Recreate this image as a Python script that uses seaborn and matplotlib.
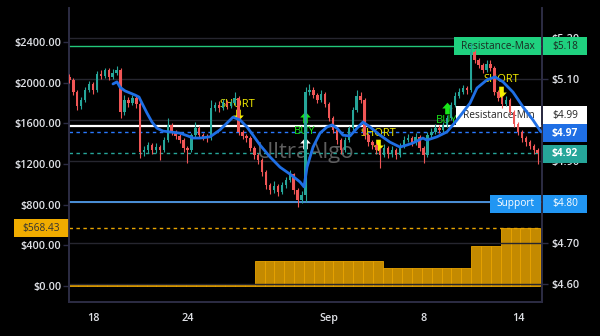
import matplotlib

matplotlib.use("Agg")

import matplotlib.pyplot as plt
import matplotlib.transforms as mtransforms
import numpy as np
import seaborn as sns
from matplotlib.patches import Rectangle
from matplotlib.path import Path

# 6h candles, right axis (price)
FIRST_OPEN = 5.105
CLOSE = [
    5.098, 5.068, 5.034, 5.049, 5.073, 5.088, 5.073, 5.112, 5.107, 5.122,
    5.105, 5.115, 5.122, 5.020, 5.049, 5.041, 5.054, 5.039, 4.922, 4.927,
    4.939, 4.927, 4.934, 4.927, 4.951, 4.988, 4.971, 4.961, 4.951, 4.932,
    4.927, 4.963, 4.980, 4.963, 4.959, 4.956, 5.029, 5.037, 5.029, 5.044,
    5.034, 5.041, 5.054, 4.971, 4.961, 4.956, 4.932, 4.915, 4.902, 4.873,
    4.841, 4.829, 4.839, 4.824, 4.841, 4.854, 4.868, 4.829, 4.805, 4.817,
    5.068, 5.073, 5.061, 5.049, 5.063, 5.039, 5.005, 4.976, 4.951, 4.927,
    4.951, 4.980, 5.024, 5.059, 5.049, 4.963, 4.946, 4.939, 4.927, 4.915,
    4.932, 4.917, 4.927, 4.915, 4.937, 4.951, 4.956, 4.944, 4.959, 4.932,
    4.915, 4.963, 4.971, 4.980, 4.976, 4.988, 5.005, 5.037, 5.059, 5.068,
    5.078, 5.073, 5.166, 5.146, 5.134, 5.122, 5.137, 5.127, 5.068, 5.054,
    5.039, 5.049, 5.020, 4.990, 4.971, 4.956, 4.946, 4.937, 4.927, 4.920,
]
HIGH = [
    5.112, 5.102, 5.072, 5.056, 5.080, 5.095, 5.092, 5.120, 5.122, 5.128,
    5.127, 5.124, 5.132, 5.126, 5.061, 5.056, 5.061, 5.059, 5.044, 4.937,
    4.946, 4.944, 4.944, 4.939, 4.958, 5.005, 4.993, 4.976, 4.966, 4.956,
    4.937, 4.968, 4.995, 4.985, 4.968, 4.966, 5.049, 5.044, 5.046, 5.051,
    5.049, 5.049, 5.068, 5.058, 4.976, 4.966, 4.961, 4.937, 4.920, 4.907,
    4.878, 4.846, 4.851, 4.844, 4.849, 4.861, 4.878, 4.871, 4.834, 4.827,
    5.080, 5.088, 5.080, 5.066, 5.073, 5.068, 5.044, 5.010, 4.980, 4.956,
    4.958, 4.985, 5.032, 5.073, 5.068, 5.054, 4.968, 4.951, 4.944, 4.932,
    4.941, 4.937, 4.937, 4.932, 4.944, 4.961, 4.966, 4.961, 4.968, 4.963,
    4.937, 4.971, 4.980, 4.990, 4.988, 4.995, 5.012, 5.044, 5.068, 5.078,
    5.085, 5.083, 5.188, 5.171, 5.151, 5.139, 5.146, 5.146, 5.132, 5.073,
    5.059, 5.058, 5.054, 5.024, 4.995, 4.976, 4.961, 4.951, 4.941, 4.932,
]
LOW = [
    5.090, 5.060, 5.024, 5.028, 5.044, 5.068, 5.063, 5.068, 5.100, 5.102,
    5.098, 5.100, 5.110, 5.005, 5.012, 5.032, 5.036, 5.030, 4.907, 4.912,
    4.920, 4.917, 4.920, 4.902, 4.922, 4.946, 4.963, 4.954, 4.944, 4.922,
    4.895, 4.922, 4.958, 4.956, 4.951, 4.946, 4.951, 5.022, 5.020, 5.024,
    5.027, 5.029, 5.036, 4.963, 4.954, 4.946, 4.924, 4.905, 4.893, 4.863,
    4.832, 4.819, 4.822, 4.815, 4.819, 4.834, 4.849, 4.819, 4.788, 4.797,
    4.800, 5.061, 5.054, 5.041, 5.044, 5.032, 4.998, 4.968, 4.941, 4.917,
    4.922, 4.946, 4.975, 5.020, 5.041, 4.954, 4.937, 4.929, 4.917, 4.883,
    4.910, 4.907, 4.910, 4.905, 4.910, 4.932, 4.946, 4.936, 4.939, 4.924,
    4.895, 4.910, 4.956, 4.966, 4.968, 4.971, 4.983, 5.000, 5.032, 5.054,
    5.063, 5.063, 5.068, 5.139, 5.127, 5.115, 5.117, 5.120, 5.061, 5.046,
    5.029, 5.034, 5.012, 4.983, 4.963, 4.946, 4.937, 4.929, 4.917, 4.893,
]

# blue moving average, positions in candle units
MA_POS = [
    11.08, 12.10, 12.86, 14.13, 15.40, 16.67, 17.69, 18.45, 19.72, 20.99,
    22.26, 23.79, 25.48, 28.11, 30.14, 31.41, 33.19, 35.73, 38.27, 41.58,
    43.36, 45.13, 46.66, 48.44, 50.98, 53.52, 56.06, 58.60, 59.62, 60.39,
    61.91, 63.69, 65.47, 66.74, 68.01, 69.53, 71.31, 73.09, 74.61, 76.39,
    78.93, 81.47, 84.01, 85.79, 87.31, 89.85, 90.87, 93.41, 95.95, 98.49,
    101.80, 103.58, 106.12, 108.16, 110.19, 112.73, 115.27, 117.81, 119.84,
]
MA_VALUE = [
    5.088, 5.093, 5.080, 5.071, 5.066, 5.061, 5.056, 5.041, 5.017, 4.995,
    4.980, 4.973, 4.971, 4.968, 4.961, 4.956, 4.956, 4.959, 4.976, 5.007,
    5.000, 4.983, 4.963, 4.939, 4.910, 4.885, 4.868, 4.849, 4.837, 4.885,
    4.934, 4.968, 4.983, 4.988, 4.980, 4.963, 4.961, 4.980, 4.995, 4.983,
    4.963, 4.946, 4.934, 4.939, 4.944, 4.956, 4.951, 4.959, 4.971, 5.000,
    5.041, 5.078, 5.098, 5.105, 5.093, 5.068, 5.032, 5.000, 4.971,
]

# orange step bars, left axis ($)
BAR_LEVELS = [6, 246, 182, 398, 568.43]
BAR_COUNTS = [19, 13, 9, 3, 4]

DATE_TICKS = [6, 30, 66, 90, 114]
DATE_LABELS = ["18", "24", "Sep", "8", "14"]
LEFT_TICKS = [0, 400, 800, 1200, 1600, 2000, 2400]
RIGHT_TICKS = [4.6, 4.7, 4.8, 4.9, 5.0, 5.1, 5.2]
RIGHT_LABELS = ["$4.60", "$4.70", "", "$4.90", "", "$5.10", "$5.20"]

RES_MAX, RES_MIN, SUPPORT = 5.18, 4.985, 4.80
LAST_MA, LAST_CLOSE, LAST_BAR = 4.97, 4.92, 568.43

SIGNAL_KIND = ["SHORT", "BUY", "SHORT", "BUY", "SHORT"]
SIGNAL_POS = [42.8, 59.9, 78.4, 96.0, 109.7]
SIGNAL_TEXT_PRICE = [5.039, 4.973, 4.968, 4.998, 5.098]
SIGNAL_ARROW_PRICE = [5.012, 5.007, 4.939, 5.029, 5.068]

UP, DOWN = "#26a69a", "#f05656"
FG = "#dfe1e6"
GRID = "#26262f"
SPINE = "#2c2c44"
YELLOW, GREEN = "#f6ef00", "#19e619"

# block arrow marker
ARROW_UP = Path(
    [(-0.22, -0.55), (0.22, -0.55), (0.22, 0.0), (0.5, 0.0), (0.0, 0.55),
     (-0.5, 0.0), (-0.22, 0.0), (-0.22, -0.55)],
    [Path.MOVETO] + [Path.LINETO] * 6 + [Path.CLOSEPOLY],
)
ARROW_DOWN = Path(ARROW_UP.vertices * np.array([1, -1]), ARROW_UP.codes)


def label_box(ax, x0, x1, yc, text, fc, tc, weight="normal", h=0.044, z=3):
    trans = mtransforms.blended_transform_factory(ax.transAxes, ax.transData)
    ax.add_patch(Rectangle((x0, yc - h / 2), x1 - x0, h, transform=trans, fc=fc, ec="none",
                           clip_on=False, zorder=z))
    ax.text((x0 + x1) / 2, yc, text, transform=trans, ha="center", va="center", color=tc,
            fontsize=7.3, fontweight=weight, clip_on=False, zorder=z + 0.1)


def main() -> None:
    sns.set_theme(style="dark", rc={
        "axes.facecolor": "#000000",
        "figure.facecolor": "#000000",
        "axes.edgecolor": SPINE,
        "grid.color": GRID,
        "text.color": FG,
        "xtick.color": FG,
        "ytick.color": FG,
    })
    plt.rcParams["font.family"] = ["Open Sans", "DejaVu Sans"]

    fig = plt.figure(figsize=(6, 3.36), dpi=100)
    ax = fig.add_axes([69 / 600, 34 / 336, 473 / 600, 294 / 336])
    ax2 = ax.twinx()

    # orange bars on the left axis
    bar_vals = np.repeat(BAR_LEVELS, BAR_COUNTS)
    bar_left = -0.4 + 2.5 * np.arange(len(bar_vals))
    ax.bar(bar_left, bar_vals, width=2.5, align="edge", color="#c48a00",
           edgecolor="#eaa400", linewidth=0.6, zorder=2)
    ax.axhline(LAST_BAR, color="#e8a400", lw=1, ls=(0, (2.5, 2.5)), zorder=2.2)

    ax.set_ylim(-157, 2734)
    ax.set_xlim(-0.1, 120.1)
    ax.set_yticks(LEFT_TICKS)
    ax.set_yticklabels([f"${v:.2f}" for v in LEFT_TICKS])
    ax.set_xticks(DATE_TICKS)
    ax.set_xticklabels(DATE_LABELS)
    ax.tick_params(axis="y", length=4, width=1, color=SPINE, pad=1.5, labelsize=7.8)
    ax.tick_params(axis="x", length=4, width=1, color=SPINE, pad=9.5, labelsize=7.8)
    for lab in ax.get_yticklabels():
        lab.set_fontweight("semibold")
    for lab in ax.get_xticklabels():
        lab.set_fontweight("semibold")
        lab.set_verticalalignment("baseline")
    ax.grid(False)
    ax.spines["top"].set_visible(False)

    # candles on the right axis
    opens = np.array([FIRST_OPEN] + CLOSE[:-1])
    closes = np.array(CLOSE)
    pos = np.arange(len(closes))
    colors = np.where(closes >= opens, UP, DOWN)
    ax2.vlines(pos, LOW, HIGH, colors=colors, lw=0.8, zorder=4)
    body = np.where(np.abs(closes - opens) < 0.002, 0.002, closes - opens)
    ax2.bar(pos, body, bottom=opens, width=0.62, color=colors, linewidth=0, zorder=4)

    sns.lineplot(x=MA_POS, y=MA_VALUE, ax=ax2, color="#1f6fe5", lw=2, zorder=4.5)

    # levels
    ax2.axhline(RES_MAX, color="#22c77a", lw=1, zorder=2)
    ax2.axhline(RES_MIN, color="#ffffff", lw=1.6, zorder=2)
    ax2.axhline(SUPPORT, color="#4a90d9", lw=1.4, zorder=2)
    ax2.axhline(LAST_MA, color="#2979ff", lw=1, ls=(0, (2.5, 2.5)), zorder=2)
    ax2.axhline(LAST_CLOSE, color=UP, lw=1, ls=(0, (2.5, 2.5)), zorder=2)

    ax2.text(0.5, 0.51, "UltraAlgo", transform=ax2.transAxes, ha="center", va="center",
             fontsize=16, color="#5e5e5e", zorder=1.5)

    # signals
    for kind, x, ty, ay in zip(SIGNAL_KIND, SIGNAL_POS, SIGNAL_TEXT_PRICE, SIGNAL_ARROW_PRICE):
        color = YELLOW if kind == "SHORT" else GREEN
        marker = ARROW_DOWN if kind == "SHORT" else ARROW_UP
        ax2.text(x, ty, kind, color=color, fontsize=8, ha="center", va="center", zorder=2.8)
        ax2.scatter([x], [ay], marker=marker, s=70, color=color, linewidths=0, zorder=2.8)
    ax2.scatter([SIGNAL_POS[1]], [4.944], marker=ARROW_UP, s=70, color="#ffffff",
                linewidths=0, zorder=2.8)

    ax2.set_ylim(4.5561, 5.2732)
    ax2.set_yticks(RIGHT_TICKS)
    ax2.set_yticklabels(RIGHT_LABELS)
    ax2.tick_params(axis="y", length=4, width=1, color=SPINE, pad=3, labelsize=7.8)
    for lab in ax2.get_yticklabels():
        lab.set_fontweight("semibold")
    ax2.grid(True, axis="both", color=GRID, lw=1)
    for g in ax2.get_xgridlines() + ax2.get_ygridlines():
        g.set_zorder(2.1)
    ax2.spines["top"].set_visible(False)
    ax2.set_ylabel("")

    # label boxes
    rx0, rx1 = (543 - 69) / 473, (587 - 69) / 473
    label_box(ax2, (454 - 69) / 473, (541 - 69) / 473, RES_MAX, "Resistance-Max", "#1fd17f", "#1b2b22")
    label_box(ax2, rx0, rx1, RES_MAX, "$5.18", "#1fd17f", "#1b2b22", z=6)
    label_box(ax2, (456 - 69) / 473, (541 - 69) / 473, 5.011, "Resistance-Min", "#ffffff", "#222222")
    label_box(ax2, rx0, rx1, 5.011, "$4.99", "#ffffff", "#222222", z=6)
    label_box(ax2, rx0, rx1, 4.968, "$4.97", "#1f6fe5", "#ffffff", weight="bold", z=6)
    label_box(ax2, rx0, rx1, 4.918, "$4.92", "#26a69a", "#ffffff", weight="bold", z=6)
    label_box(ax2, (490 - 69) / 473, (541 - 69) / 473, 4.796, "Support", "#2196f3", "#ffffff")
    label_box(ax2, rx0, rx1, 4.796, "$4.80", "#2196f3", "#ffffff", z=6)
    label_box(ax, (14 - 69) / 473, 0.0, LAST_BAR, "$568.43", "#f0ac00", "#333333", h=180, z=6)

    fig.savefig("out.png", dpi=100, facecolor="#000000")
    plt.close(fig)


if __name__ == "__main__":
    main()
